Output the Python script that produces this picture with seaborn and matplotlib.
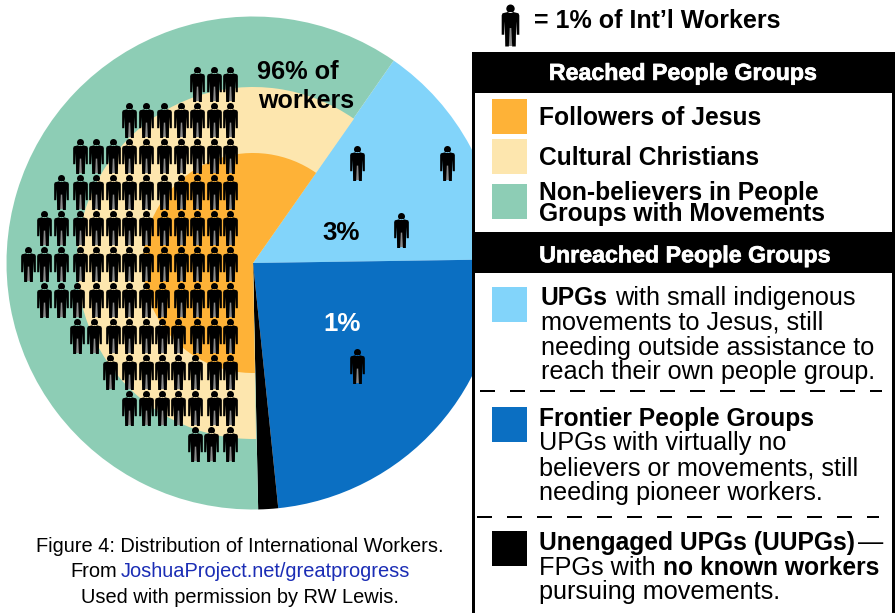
import matplotlib
matplotlib.use("Agg")
import matplotlib.pyplot as plt
import matplotlib.patheffects as pe
import seaborn as sns
import pandas as pd
from matplotlib.path import Path
from matplotlib.patches import Rectangle

# ---------- data ----------
ring_labels = ["UPGs small movements", "Frontier People Groups", "UUPGs", "Non-believers"]
ring_values = [15.1, 23.6, 1.3, 60.0]
ring_colors = ["#82D4FA", "#0B6FC2", "#000000", "#8DCDB5"]
inner_share = [60.0, 40.0]
row_y = [84, 120, 156, 192, 228, 264, 300, 336, 372, 408, 444]
row_x = [
    [197, 214, 230],
    [129, 146, 164, 181, 197, 214, 230],
    [80, 96, 113, 129, 146, 164, 181, 197, 214, 230],
    [61, 80, 96, 113, 129, 146, 164, 181, 197, 214, 230],
    [44, 61, 80, 96, 113, 129, 146, 164, 181, 197, 214, 230],
    [28, 44, 61, 80, 96, 113, 129, 146, 164, 181, 197, 214, 230],
    [44, 61, 77, 96, 113, 129, 146, 162, 181, 197, 214, 230],
    [77, 94, 113, 129, 146, 162, 178, 197, 214, 230],
    [110, 129, 146, 162, 178, 195, 214, 230],
    [129, 146, 162, 178, 195, 214, 230],
    [195, 211, 230],
]
other_x = [357, 447, 401, 357]
other_y = [163, 163, 230, 366]
swatch_colors = ["#FEB237", "#FDE6AE", "#8DCDB5", "#82D4FA", "#0B6FC2", "#000000"]
swatch_y = [99, 139, 184, 287, 407, 531]

sns.set_theme(style="white")
plt.rcParams["font.family"] = ["Liberation Sans", "DejaVu Sans"]

fig = plt.figure(figsize=(8.96, 6.13), dpi=100)
ax = fig.add_axes([0, 0, 1, 1])

# pie (y axis inverted, so counterclockwise in data is clockwise on screen)
CX, CY = 253, 263
ax.pie(ring_values, colors=ring_colors, center=(CX, CY), radius=246.5,
       startangle=-55.2, frame=True, wedgeprops=dict(linewidth=0))
ax.pie(inner_share, colors=["#FDE6AE", "none"], center=(CX, CY), radius=176,
       startangle=89, frame=True, wedgeprops=dict(linewidth=0))
ax.pie(inner_share, colors=["#FEB237", "none"], center=(CX, CY), radius=110,
       startangle=89, frame=True, wedgeprops=dict(linewidth=0))

# person icon
body = [(-.07, .32), (.07, .32), (.19, .29), (.21, .24), (.21, -.22), (.15, -.22), (.135, .10),
        (.125, -.5), (.04, -.5), (.02, -.06), (-.02, -.06), (-.04, -.5), (-.125, -.5), (-.135, .10),
        (-.15, -.22), (-.21, -.22), (-.21, .24), (-.19, .29), (-.07, .32)]
head = Path.circle((0, .40), .10)
person = Path.make_compound_path(head, Path(body, closed=True))
stripe = Path.make_compound_path(
    Path([(0, .5), (0, -.5), (0, .5)], closed=True),
    Path([(-.05, -.04), (.05, -.04), (.05, -.49), (-.05, -.49), (-.05, -.04)], closed=True))

xs, ys = [], []
for y, row in zip(row_y, row_x):
    xs += row
    ys += [y] * len(row)
xs += other_x
ys += other_y
icons = pd.DataFrame({"x": xs, "y": ys})
sns.scatterplot(data=icons, x="x", y="y", marker=stripe, s=635, color="#8a8a8a",
                linewidth=0, ax=ax, zorder=2, legend=False)
sns.scatterplot(data=icons, x="x", y="y", marker=person, s=635, color="black",
                linewidth=0, ax=ax, zorder=2.1, legend=False)
key = pd.DataFrame({"x": [510], "y": [25]})
sns.scatterplot(data=key, x="x", y="y", marker=stripe, s=914, color="#8a8a8a",
                linewidth=0, ax=ax, zorder=2, legend=False)
sns.scatterplot(data=key, x="x", y="y", marker=person, s=914, color="black",
                linewidth=0, ax=ax, zorder=2.1, legend=False)

# legend box
ax.add_patch(Rectangle((473, 52), 421, 570, fc="white", ec="none", zorder=3))
ax.add_patch(Rectangle((472, 52), 3, 570, fc="black", ec="none", zorder=3.1))
ax.add_patch(Rectangle((892, 52), 3, 570, fc="black", ec="none", zorder=3.1))
ax.add_patch(Rectangle((472, 52), 423, 41, fc="black", ec="none", zorder=3.1))
ax.add_patch(Rectangle((472, 232), 423, 41, fc="black", ec="none", zorder=3.1))
for c, y in zip(swatch_colors, swatch_y):
    ax.add_patch(Rectangle((492, y), 35, 35, fc=c, ec="none", zorder=3.2))
dash = dict(color="black", lw=1.44, linestyle=(0, (7.5, 7.5)), dash_capstyle="butt", zorder=3.2)
ax.plot([480, 882], [391, 391], **dash)
ax.plot([477, 879], [517, 517], **dash)

Z = 4
BS = 17.75
RS = 18.15

def T(x, y, s, size=18, weight="normal", color="black", ha="left", **kw):
    return ax.text(x, y + 0.6, s, fontsize=size, fontweight=weight, color=color, ha=ha,
                   va="baseline", zorder=Z, **kw)

def runs(x, y, parts):
    r = fig.canvas.get_renderer()
    gap = 0.278 * RS * 100 / 72
    for s, w in parts:
        t = T(x, y, s, size=BS if w == "bold" else RS, weight=w)
        x += t.get_window_extent(r).width + gap

heavy = [pe.withStroke(linewidth=0.5, foreground="white")]
T(534, 27.7, "= 1% of Int\u2019l Workers", size=18, weight="bold")
T(682, 79.3, "Reached People Groups", size=16.7, weight="bold", color="white", ha="center", path_effects=heavy)
T(684, 261.7, "Unreached People Groups", size=16.7, weight="bold", color="white", ha="center", path_effects=heavy)
T(539, 124.3, "Followers of Jesus", size=BS, weight="bold")
T(539, 164.3, "Cultural Christians", size=BS, weight="bold")
T(539, 199, "Non-believers in People", size=BS, weight="bold")
T(539, 220.7, "Groups with Movements", size=BS, weight="bold")
runs(541, 304.3, [("UPGs", "bold"), ("with small indigenous", "normal")])
T(541, 329.3, "movements to Jesus, still", size=RS)
T(541, 354, "needing outside assistance to", size=RS)
T(541, 378.7, "reach their own people group.", size=RS)
T(539, 425, "Frontier People Groups", size=BS, weight="bold")
T(539, 449.3, "UPGs with virtually no", size=RS)
T(539, 474.7, "believers or movements, still", size=RS)
T(539, 499.3, "needing pioneer workers.", size=RS)
T(539, 549, "Unengaged UPGs (UUPGs)", size=BS, weight="bold")
T(858, 549, "\u2014", size=RS)
runs(539, 574.3, [("FPGs with", "normal"), ("no known workers", "bold")])
T(539, 598.3, "pursuing movements.", size=RS)

T(257, 78.3, "96% of", size=18.3, weight="bold")
T(258, 107.3, "workers", size=18, weight="bold")
T(322, 239, "3%", size=18.6, weight="bold")
T(323, 330.7, "1%", size=18.6, weight="bold", color="white")

T(240, 551.7, "Figure 4: Distribution of International Workers.", size=14.4, ha="center")
T(70, 576.7, "From", size=14.4)
T(121, 576.7, "JoshuaProject.net/greatprogress", size=14.4, color="#1B2DB5")
T(240, 602, "Used with permission by RW Lewis.", size=14.4, ha="center")

ax.set_xlim(0, 896)
ax.set_ylim(613, 0)
ax.set_aspect("auto")
ax.axis("off")
fig.savefig("out.png", dpi=100)
